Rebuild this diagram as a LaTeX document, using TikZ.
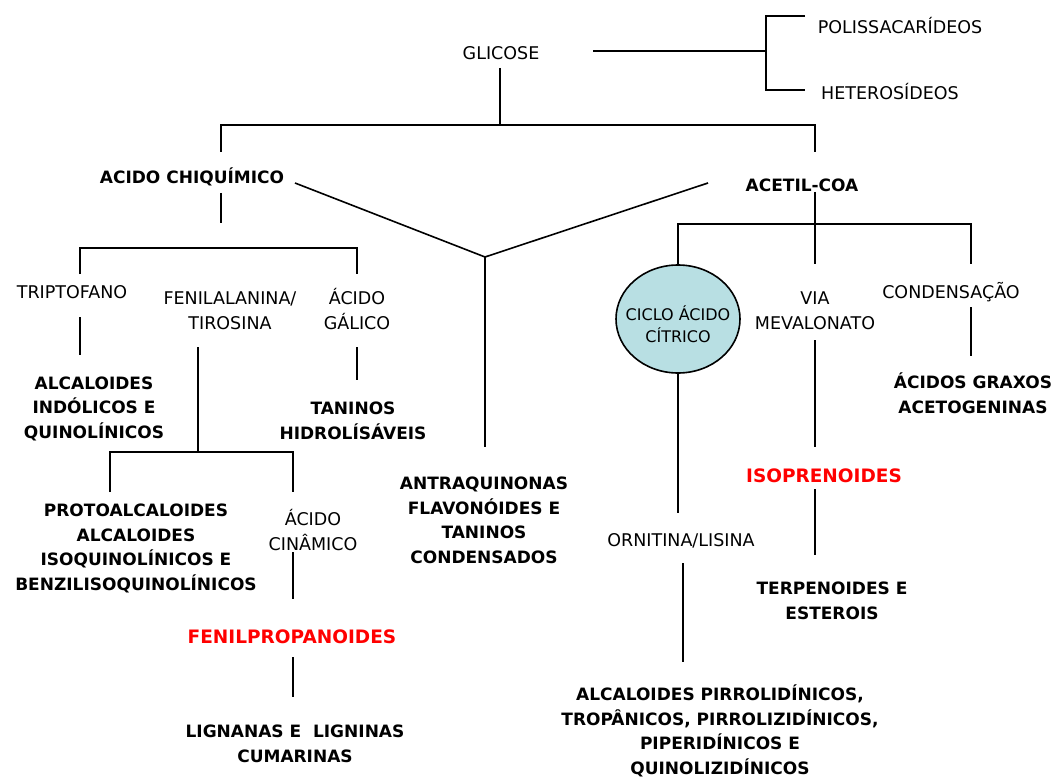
\documentclass[tikz,border=0pt]{standalone}
\usepackage{fontspec}
\setmainfont{DejaVu Sans}
\usetikzlibrary{shapes.geometric}
\definecolor{cicfill}{RGB}{184,223,227}
\definecolor{redtxt}{RGB}{255,0,0}
\tikzset{
  ln/.style={line width=1.6pt, line cap=butt},
  lab/.style={font=\fontsize{17.5}{24.5}\selectfont, anchor=base, align=center, inner sep=0pt},
  blab/.style={font=\bfseries\fontsize{17}{24.5}\selectfont, anchor=base, align=center, inner sep=0pt},
  rlab/.style={font=\bfseries\fontsize{18.5}{24.5}\selectfont, text=redtxt, anchor=base, align=center, inner sep=0pt},
  cyc/.style={ellipse, draw, line width=1.6pt, fill=cicfill, minimum width=124pt, minimum height=108pt, inner sep=0pt, font=\fontsize{16}{22}\selectfont}
}
\begin{document}
\begin{tikzpicture}[x=1pt,y=-1pt]
\useasboundingbox (0,0) rectangle (1054,778);
% ---- nodes (multi-line nodes: base anchor = baseline of the last line)
\node[lab] (glicose) at (501,59.4) {GLICOSE};
\node[lab] (polis) at (900,33.4) {POLISSACARÍDEOS};
\node[lab] (hetero) at (890,99.4) {HETEROSÍDEOS};
\node[blab] (chiq) at (192,183.2) {ACIDO CHIQUÍMICO};
\node[blab] (acetil) at (802,191.2) {ACETIL-COA};
\node[lab] (tript) at (72,298.4) {TRIPTOFANO};
\node[lab] (fenil) at (230,329.4) {FENILALANINA/\\TIROSINA};
\node[lab] (galico) at (357,329.4) {ÁCIDO\\GÁLICO};
\node[blab] (indol) at (94,438.2) {ALCALOIDES\\INDÓLICOS E\\QUINOLÍNICOS};
\node[blab] (taninosh) at (353,439.2) {TANINOS\\HIDROLÍSÁVEIS};
\node[blab] (proto) at (136,590.2) {PROTOALCALOIDES\\ALCALOIDES\\ISOQUINOLÍNICOS E\\BENZILISOQUINOLÍNICOS};
\node[lab] (cinam) at (313,550.4) {ÁCIDO\\CINÂMICO};
\node[rlab] (fenilprop) at (292,643.7) {FENILPROPANOIDES};
\node[blab] (lign) at (295,762.2) {LIGNANAS E\ \ LIGNINAS\\CUMARINAS};
\node[blab] (antra) at (484,563.2) {ANTRAQUINONAS\\FLAVONÓIDES E\\TANINOS\\CONDENSADOS};
\node[cyc] (ciclo) at (678,319) {\makebox[0pt]{\raisebox{-12pt}[0pt][0pt]{\begin{tabular}{@{}c@{}}CICLO ÁCIDO\\CÍTRICO\end{tabular}}}};
\node[lab] (via) at (815,329.4) {VIA\\MEVALONATO};
\node[lab] (cond) at (951,298.4) {CONDENSAÇÃO};
\node[blab] (graxos) at (973,413.2) {ÁCIDOS GRAXOS\\ACETOGENINAS};
\node[rlab] (isop) at (824,482.7) {ISOPRENOIDES};
\node[blab] (terp) at (832,619.2) {TERPENOIDES E\\ESTEROIS};
\node[lab] (ornit) at (681,546.4) {ORNITINA/LISINA};
\node[blab] (pirrol) at (720,774.2) {ALCALOIDES PIRROLIDÍNICOS,\\TROPÂNICOS, PIRROLIZIDÍNICOS,\\PIPERIDÍNICOS E\\QUINOLIZIDÍNICOS};
% ---- junction coordinates
\coordinate (jg) at (766,51);
\coordinate (jtop) at (500,125);
\coordinate (jv) at (485,257);
\coordinate (jfen) at (198,452);
% ---- connectors
\draw[ln] (593,51) -- (jg);
\draw[ln] (805,16) -- (766,16) -- (766,90) -- (805,90);
\draw[ln] (500,68) -- (jtop);
\draw[ln] (221,152) -- (221,125) -- (815,125) -- (815,152);
\draw[ln] (295,183) -- (jv) -- (708,183);
\draw[ln] (jv) -- (485,447);
\draw[ln] (221,193) -- (221,223);
\draw[ln] (80,274) -- (80,248) -- (357,248) -- (357,274);
\draw[ln] (80,317) -- (80,355);
\draw[ln] (198,347) -- (jfen);
\draw[ln] (357,347) -- (357,380);
\draw[ln] (110,492) -- (110,452) -- (293,452) -- (293,492);
\draw[ln] (293,552) -- (293,599);
\draw[ln] (293,657) -- (293,697);
\draw[ln] (815,192) -- (815,264);
\draw[ln] (ciclo.north) -- (678,224) -- (971,224) -- (971,264);
\draw[ln] (ciclo.south) -- (678,513);
\draw[ln] (815,340) -- (815,447);
\draw[ln] (815,489) -- (815,555);
\draw[ln] (971,307) -- (971,356);
\draw[ln] (683,563) -- (683,662);
\end{tikzpicture}
\end{document}
